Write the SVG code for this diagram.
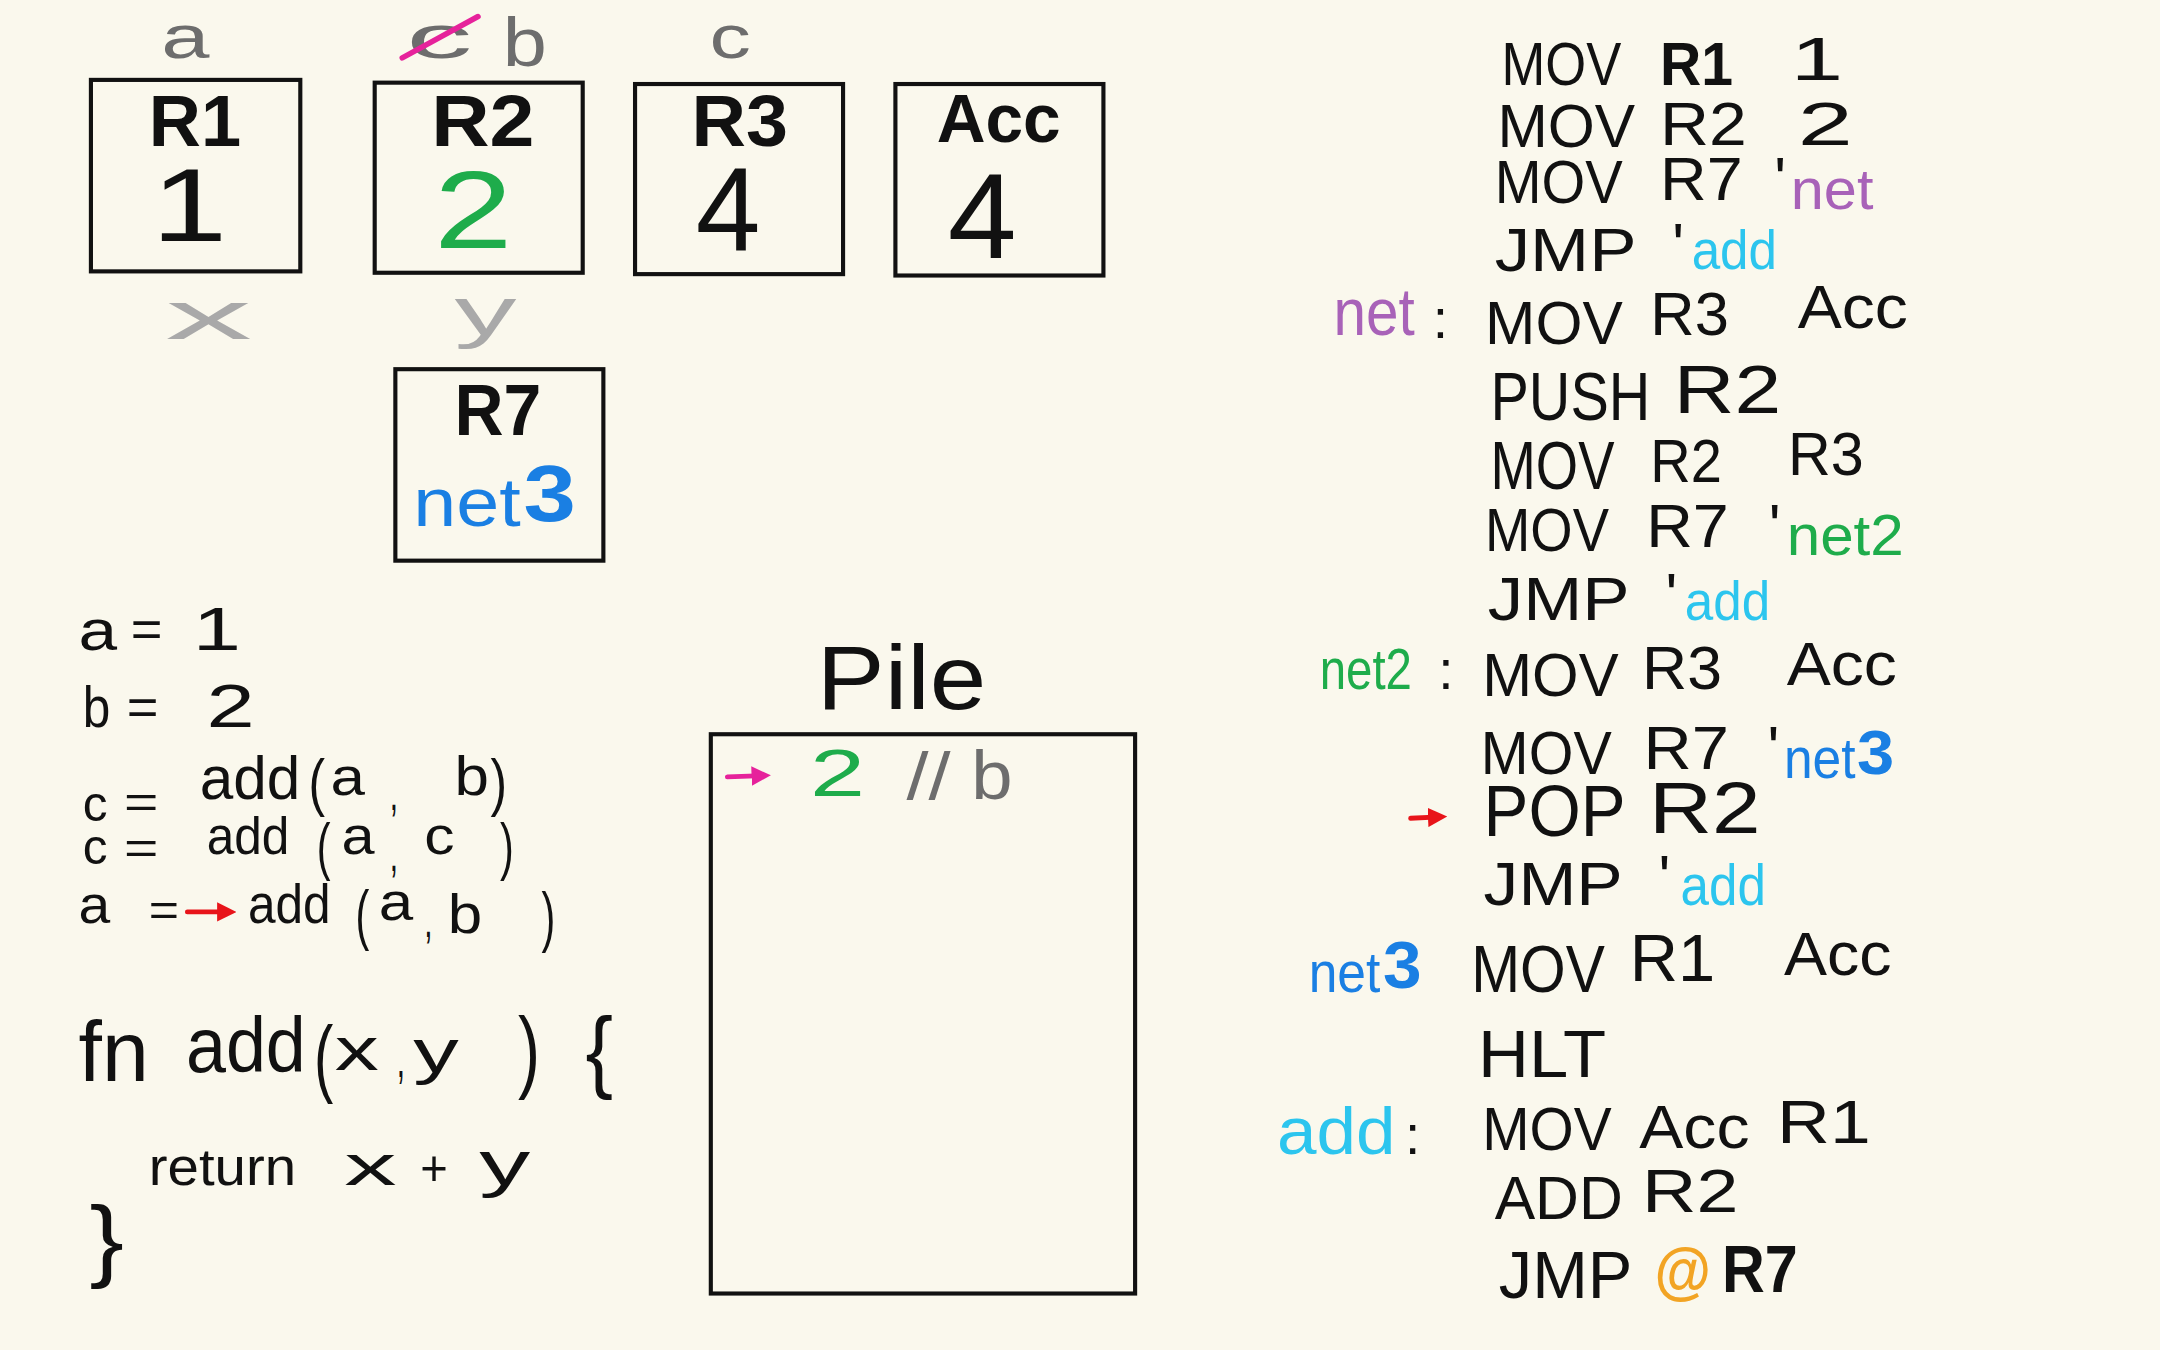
<svg xmlns="http://www.w3.org/2000/svg" width="2160" height="1350" viewBox="0 0 2160 1350">
<style>
text{font-family:"Liberation Sans",Arial,sans-serif;fill:#111}
.b{font-weight:bold}
.g{fill:#6d6d6d}
.lg{fill:#a9a9a9}
.gr{fill:#1eac4b}
.bl{fill:#1a7fe3}
.pu{fill:#a862b8}
.cy{fill:#2cc5ee}
.or{fill:#f2a424}
.box{fill:none;stroke:#111;stroke-width:3}
.arr{fill:none;stroke-width:3.5;stroke-linecap:round}
</style>
<defs>
<marker id="mr" viewBox="0 0 10 10" refX="6" refY="5" markerWidth="4" markerHeight="4" orient="auto"><path d="M0,0 L10,5 L0,10 z" fill="#e8141a"/></marker>
<marker id="mp" viewBox="0 0 10 10" refX="6" refY="5" markerWidth="4" markerHeight="4" orient="auto"><path d="M0,0 L10,5 L0,10 z" fill="#e6229b"/></marker>
</defs>
<rect width="2160" height="1350" fill="#faf8ed"/>
<g transform="scale(1.377551)">
<g id="var-labels">
<text class="g" x="117" y="42" font-size="44" textLength="35" lengthAdjust="spacingAndGlyphs">a</text>
<text class="g" x="295" y="42" font-size="44" textLength="48" lengthAdjust="spacingAndGlyphs">c</text>
<line x1="292" y1="42" x2="347" y2="12" stroke="#e6229b" stroke-width="4" stroke-linecap="round"/>
<text class="g" x="365" y="48" font-size="50" textLength="32" lengthAdjust="spacingAndGlyphs">b</text>
<text class="g" x="515" y="42" font-size="44" textLength="30" lengthAdjust="spacingAndGlyphs">c</text>
<text class="lg" x="120" y="246" font-size="50" textLength="63" lengthAdjust="spacingAndGlyphs">x</text>
<text class="lg" x="330" y="243" font-size="50" textLength="45" lengthAdjust="spacingAndGlyphs">y</text>
</g>
<g id="R1">
<rect class="box" x="66" y="58" width="152" height="139"/>
<text class="b" x="108" y="106" font-size="52" textLength="67" lengthAdjust="spacingAndGlyphs">R1</text>
<text x="110" y="175" font-size="76" textLength="55" lengthAdjust="spacingAndGlyphs">1</text>
</g>
<g id="R2">
<rect class="box" x="272" y="60" width="151" height="138"/>
<text class="b" x="313" y="106" font-size="52" textLength="75" lengthAdjust="spacingAndGlyphs">R2</text>
<text class="gr" x="315" y="180" font-size="80" textLength="57" lengthAdjust="spacingAndGlyphs">2</text>
</g>
<g id="R3">
<rect class="box" x="461" y="61" width="151" height="138"/>
<text class="b" x="502" y="106" font-size="52" textLength="70" lengthAdjust="spacingAndGlyphs">R3</text>
<text x="505" y="182" font-size="86" textLength="47" lengthAdjust="spacingAndGlyphs">4</text>
</g>
<g id="Acc">
<rect class="box" x="650" y="61" width="151" height="139"/>
<text class="b" x="680" y="103" font-size="50" textLength="90" lengthAdjust="spacingAndGlyphs">Acc</text>
<text x="688" y="187" font-size="88" textLength="50" lengthAdjust="spacingAndGlyphs">4</text>
</g>
<g id="R7">
<rect class="box" x="287" y="268" width="151" height="139"/>
<text class="b" x="330" y="316" font-size="52" textLength="63" lengthAdjust="spacingAndGlyphs">R7</text>
<text class="bl" x="300" y="382" font-size="50" textLength="78" lengthAdjust="spacingAndGlyphs">net</text>
<text class="bl b" x="380" y="378" font-size="58" textLength="38" lengthAdjust="spacingAndGlyphs">3</text>
</g>
<g id="source-code">
<text x="57" y="472" font-size="42" textLength="28" lengthAdjust="spacingAndGlyphs">a</text>
<text x="95" y="470" font-size="38" textLength="23" lengthAdjust="spacingAndGlyphs">=</text>
<text x="140" y="472" font-size="44" textLength="35" lengthAdjust="spacingAndGlyphs">1</text>
<text x="60" y="528" font-size="42" textLength="20" lengthAdjust="spacingAndGlyphs">b</text>
<text x="92" y="526" font-size="38" textLength="23" lengthAdjust="spacingAndGlyphs">=</text>
<text x="150" y="528" font-size="44" textLength="35" lengthAdjust="spacingAndGlyphs">2</text>

<text x="60" y="596" font-size="36" textLength="18" lengthAdjust="spacingAndGlyphs">c</text>
<text x="90" y="594" font-size="34" textLength="25" lengthAdjust="spacingAndGlyphs">=</text>
<text x="145" y="580" font-size="44" textLength="73" lengthAdjust="spacingAndGlyphs">add</text>
<text x="224" y="584" font-size="46" textLength="12" lengthAdjust="spacingAndGlyphs">(</text>
<text x="240" y="577" font-size="38" textLength="25" lengthAdjust="spacingAndGlyphs">a</text>
<text x="283" y="588" font-size="36" textLength="6" lengthAdjust="spacingAndGlyphs">,</text>
<text x="330" y="577" font-size="40" textLength="25" lengthAdjust="spacingAndGlyphs">b</text>
<text x="356" y="584" font-size="46" textLength="12" lengthAdjust="spacingAndGlyphs">)</text>

<text x="60" y="627" font-size="36" textLength="18" lengthAdjust="spacingAndGlyphs">c</text>
<text x="90" y="627" font-size="34" textLength="25" lengthAdjust="spacingAndGlyphs">=</text>
<text x="150" y="620" font-size="38" textLength="60" lengthAdjust="spacingAndGlyphs">add</text>
<text x="230" y="630" font-size="46" textLength="10" lengthAdjust="spacingAndGlyphs">(</text>
<text x="248" y="620" font-size="38" textLength="24" lengthAdjust="spacingAndGlyphs">a</text>
<text x="283" y="632" font-size="36" textLength="6" lengthAdjust="spacingAndGlyphs">,</text>
<text x="308" y="620" font-size="38" textLength="22" lengthAdjust="spacingAndGlyphs">c</text>
<text x="363" y="630" font-size="46" textLength="10" lengthAdjust="spacingAndGlyphs">)</text>

<text x="57" y="670" font-size="38" textLength="23" lengthAdjust="spacingAndGlyphs">a</text>
<text x="108" y="672" font-size="34" textLength="22" lengthAdjust="spacingAndGlyphs">=</text>
<text x="180" y="670" font-size="40" textLength="60" lengthAdjust="spacingAndGlyphs">add</text>
<text x="258" y="680" font-size="48" textLength="10" lengthAdjust="spacingAndGlyphs">(</text>
<text x="275" y="668" font-size="38" textLength="25" lengthAdjust="spacingAndGlyphs">a</text>
<text x="308" y="680" font-size="36" textLength="6" lengthAdjust="spacingAndGlyphs">,</text>
<text x="325" y="677" font-size="40" textLength="25" lengthAdjust="spacingAndGlyphs">b</text>
<text x="393" y="682" font-size="48" textLength="10" lengthAdjust="spacingAndGlyphs">)</text>

<text x="57" y="785" font-size="62" textLength="51" lengthAdjust="spacingAndGlyphs">fn</text>
<text x="135" y="778" font-size="56" textLength="87" lengthAdjust="spacingAndGlyphs">add</text>
<text x="228" y="788" font-size="62" textLength="14" lengthAdjust="spacingAndGlyphs">(</text>
<text x="243" y="777" font-size="44" textLength="32" lengthAdjust="spacingAndGlyphs">x</text>
<text x="288" y="782" font-size="40" textLength="6" lengthAdjust="spacingAndGlyphs">,</text>
<text x="300" y="778" font-size="44" textLength="33" lengthAdjust="spacingAndGlyphs">y</text>
<text x="376" y="785" font-size="66" textLength="16" lengthAdjust="spacingAndGlyphs">)</text>
<text x="425" y="785" font-size="66" textLength="20" lengthAdjust="spacingAndGlyphs">{</text>

<text x="108" y="860" font-size="38" textLength="107" lengthAdjust="spacingAndGlyphs">return</text>
<text x="250" y="860" font-size="42" textLength="38" lengthAdjust="spacingAndGlyphs">x</text>
<text x="305" y="860" font-size="36" textLength="20" lengthAdjust="spacingAndGlyphs">+</text>
<text x="348" y="860" font-size="46" textLength="37" lengthAdjust="spacingAndGlyphs">y</text>
<text x="65" y="922" font-size="66" textLength="25" lengthAdjust="spacingAndGlyphs">}</text>
</g>
<g id="Pile">
<text x="593" y="515" font-size="66" textLength="123" lengthAdjust="spacingAndGlyphs">Pile</text>
<rect class="box" x="516" y="533" width="308" height="406"/>
<text class="gr" x="588" y="578" font-size="48" textLength="40" lengthAdjust="spacingAndGlyphs">2</text>
<text class="g" x="658" y="580" font-size="48" textLength="32" lengthAdjust="spacingAndGlyphs">//</text>
<text class="g" x="705" y="580" font-size="50" textLength="30" lengthAdjust="spacingAndGlyphs">b</text>
</g>
<g id="assembly">
<g font-size="45">
<text x="1090" y="62" textLength="87" lengthAdjust="spacingAndGlyphs">MOV</text>
<text class="b" x="1205" y="62" textLength="53" lengthAdjust="spacingAndGlyphs">R1</text>
<text x="1300" y="58" textLength="38" lengthAdjust="spacingAndGlyphs">1</text>

<text x="1087" y="107" textLength="100" lengthAdjust="spacingAndGlyphs">MOV</text>
<text x="1205" y="105" textLength="63" lengthAdjust="spacingAndGlyphs">R2</text>
<text x="1305" y="105" textLength="40" lengthAdjust="spacingAndGlyphs">2</text>

<text x="1085" y="147" textLength="93" lengthAdjust="spacingAndGlyphs">MOV</text>
<text x="1205" y="145" textLength="60" lengthAdjust="spacingAndGlyphs">R7</text>
<text x="1288" y="145">'</text>
<text class="pu" x="1300" y="152" font-size="42" textLength="60" lengthAdjust="spacingAndGlyphs">net</text>

<text x="1085" y="197" textLength="103" lengthAdjust="spacingAndGlyphs">JMP</text>
<text x="1214" y="193">'</text>
<text class="cy" x="1228" y="195" font-size="40" textLength="62" lengthAdjust="spacingAndGlyphs">add</text>

<text class="pu" x="968" y="243" font-size="48" textLength="59" lengthAdjust="spacingAndGlyphs">net</text>
<text x="1040" y="245" font-size="40">:</text>
<text x="1078" y="250" textLength="100" lengthAdjust="spacingAndGlyphs">MOV</text>
<text x="1198" y="243" textLength="57" lengthAdjust="spacingAndGlyphs">R3</text>
<text x="1305" y="238" textLength="80" lengthAdjust="spacingAndGlyphs">Acc</text>

<text x="1082" y="305" font-size="50" textLength="116" lengthAdjust="spacingAndGlyphs">PUSH</text>
<text x="1215" y="300" font-size="50" textLength="78" lengthAdjust="spacingAndGlyphs">R2</text>

<text x="1082" y="355" font-size="50" textLength="90" lengthAdjust="spacingAndGlyphs">MOV</text>
<text x="1198" y="350" textLength="52" lengthAdjust="spacingAndGlyphs">R2</text>
<text x="1298" y="345" textLength="55" lengthAdjust="spacingAndGlyphs">R3</text>

<text x="1078" y="400" textLength="90" lengthAdjust="spacingAndGlyphs">MOV</text>
<text x="1195" y="397" textLength="60" lengthAdjust="spacingAndGlyphs">R7</text>
<text x="1284" y="397">'</text>
<text class="gr" x="1297" y="403" font-size="42" textLength="85" lengthAdjust="spacingAndGlyphs">net2</text>

<text x="1080" y="450" textLength="103" lengthAdjust="spacingAndGlyphs">JMP</text>
<text x="1209" y="447">'</text>
<text class="cy" x="1223" y="450" font-size="40" textLength="62" lengthAdjust="spacingAndGlyphs">add</text>

<text class="gr" x="958" y="500" font-size="42" textLength="67" lengthAdjust="spacingAndGlyphs">net2</text>
<text x="1044" y="500" font-size="40">:</text>
<text x="1076" y="505" textLength="99" lengthAdjust="spacingAndGlyphs">MOV</text>
<text x="1192" y="500" textLength="58" lengthAdjust="spacingAndGlyphs">R3</text>
<text x="1297" y="497" textLength="80" lengthAdjust="spacingAndGlyphs">Acc</text>

<text x="1075" y="562" textLength="95" lengthAdjust="spacingAndGlyphs">MOV</text>
<text x="1193" y="558" textLength="62" lengthAdjust="spacingAndGlyphs">R7</text>
<text x="1283" y="558">'</text>
<text class="bl" x="1295" y="565" font-size="42" textLength="52" lengthAdjust="spacingAndGlyphs">net</text>
<text class="bl b" x="1348" y="562" font-size="46" textLength="27" lengthAdjust="spacingAndGlyphs">3</text>

<text x="1077" y="607" font-size="52" textLength="103" lengthAdjust="spacingAndGlyphs">POP</text>
<text x="1197" y="605" font-size="52" textLength="81" lengthAdjust="spacingAndGlyphs">R2</text>

<text x="1077" y="657" textLength="101" lengthAdjust="spacingAndGlyphs">JMP</text>
<text x="1204" y="652">'</text>
<text class="cy" x="1220" y="657" font-size="42" textLength="62" lengthAdjust="spacingAndGlyphs">add</text>

<text class="bl" x="950" y="720" font-size="42" textLength="52" lengthAdjust="spacingAndGlyphs">net</text>
<text class="bl b" x="1004" y="717" font-size="48" textLength="28" lengthAdjust="spacingAndGlyphs">3</text>
<text x="1068" y="720" font-size="48" textLength="97" lengthAdjust="spacingAndGlyphs">MOV</text>
<text x="1183" y="712" font-size="48" textLength="62" lengthAdjust="spacingAndGlyphs">R1</text>
<text x="1295" y="708" textLength="78" lengthAdjust="spacingAndGlyphs">Acc</text>

<text x="1073" y="782" font-size="48" textLength="93" lengthAdjust="spacingAndGlyphs">HLT</text>

<text class="cy" x="927" y="838" font-size="48" textLength="86" lengthAdjust="spacingAndGlyphs">add</text>
<text x="1020" y="838" font-size="40">:</text>
<text x="1076" y="835" textLength="94" lengthAdjust="spacingAndGlyphs">MOV</text>
<text x="1190" y="833" textLength="80" lengthAdjust="spacingAndGlyphs">Acc</text>
<text x="1290" y="830" textLength="68" lengthAdjust="spacingAndGlyphs">R1</text>

<text x="1085" y="885" textLength="93" lengthAdjust="spacingAndGlyphs">ADD</text>
<text x="1192" y="880" textLength="70" lengthAdjust="spacingAndGlyphs">R2</text>

<text x="1088" y="942" font-size="48" textLength="97" lengthAdjust="spacingAndGlyphs">JMP</text>
<text class="or b" x="1201" y="938" font-size="46" textLength="41" lengthAdjust="spacingAndGlyphs">@</text>
<text class="b" x="1250" y="938" font-size="48" textLength="55" lengthAdjust="spacingAndGlyphs">R7</text>
</g>
</g>
<g id="connectors">
<path class="arr" stroke="#e8141a" d="M136,662 L166,662" marker-end="url(#mr)"/>
<path class="arr" stroke="#e6229b" d="M528,564 L554,563" marker-end="url(#mp)"/>
<path class="arr" stroke="#e8141a" d="M1024,594 L1045,593" marker-end="url(#mr)"/>
</g>
</g>
</svg>
